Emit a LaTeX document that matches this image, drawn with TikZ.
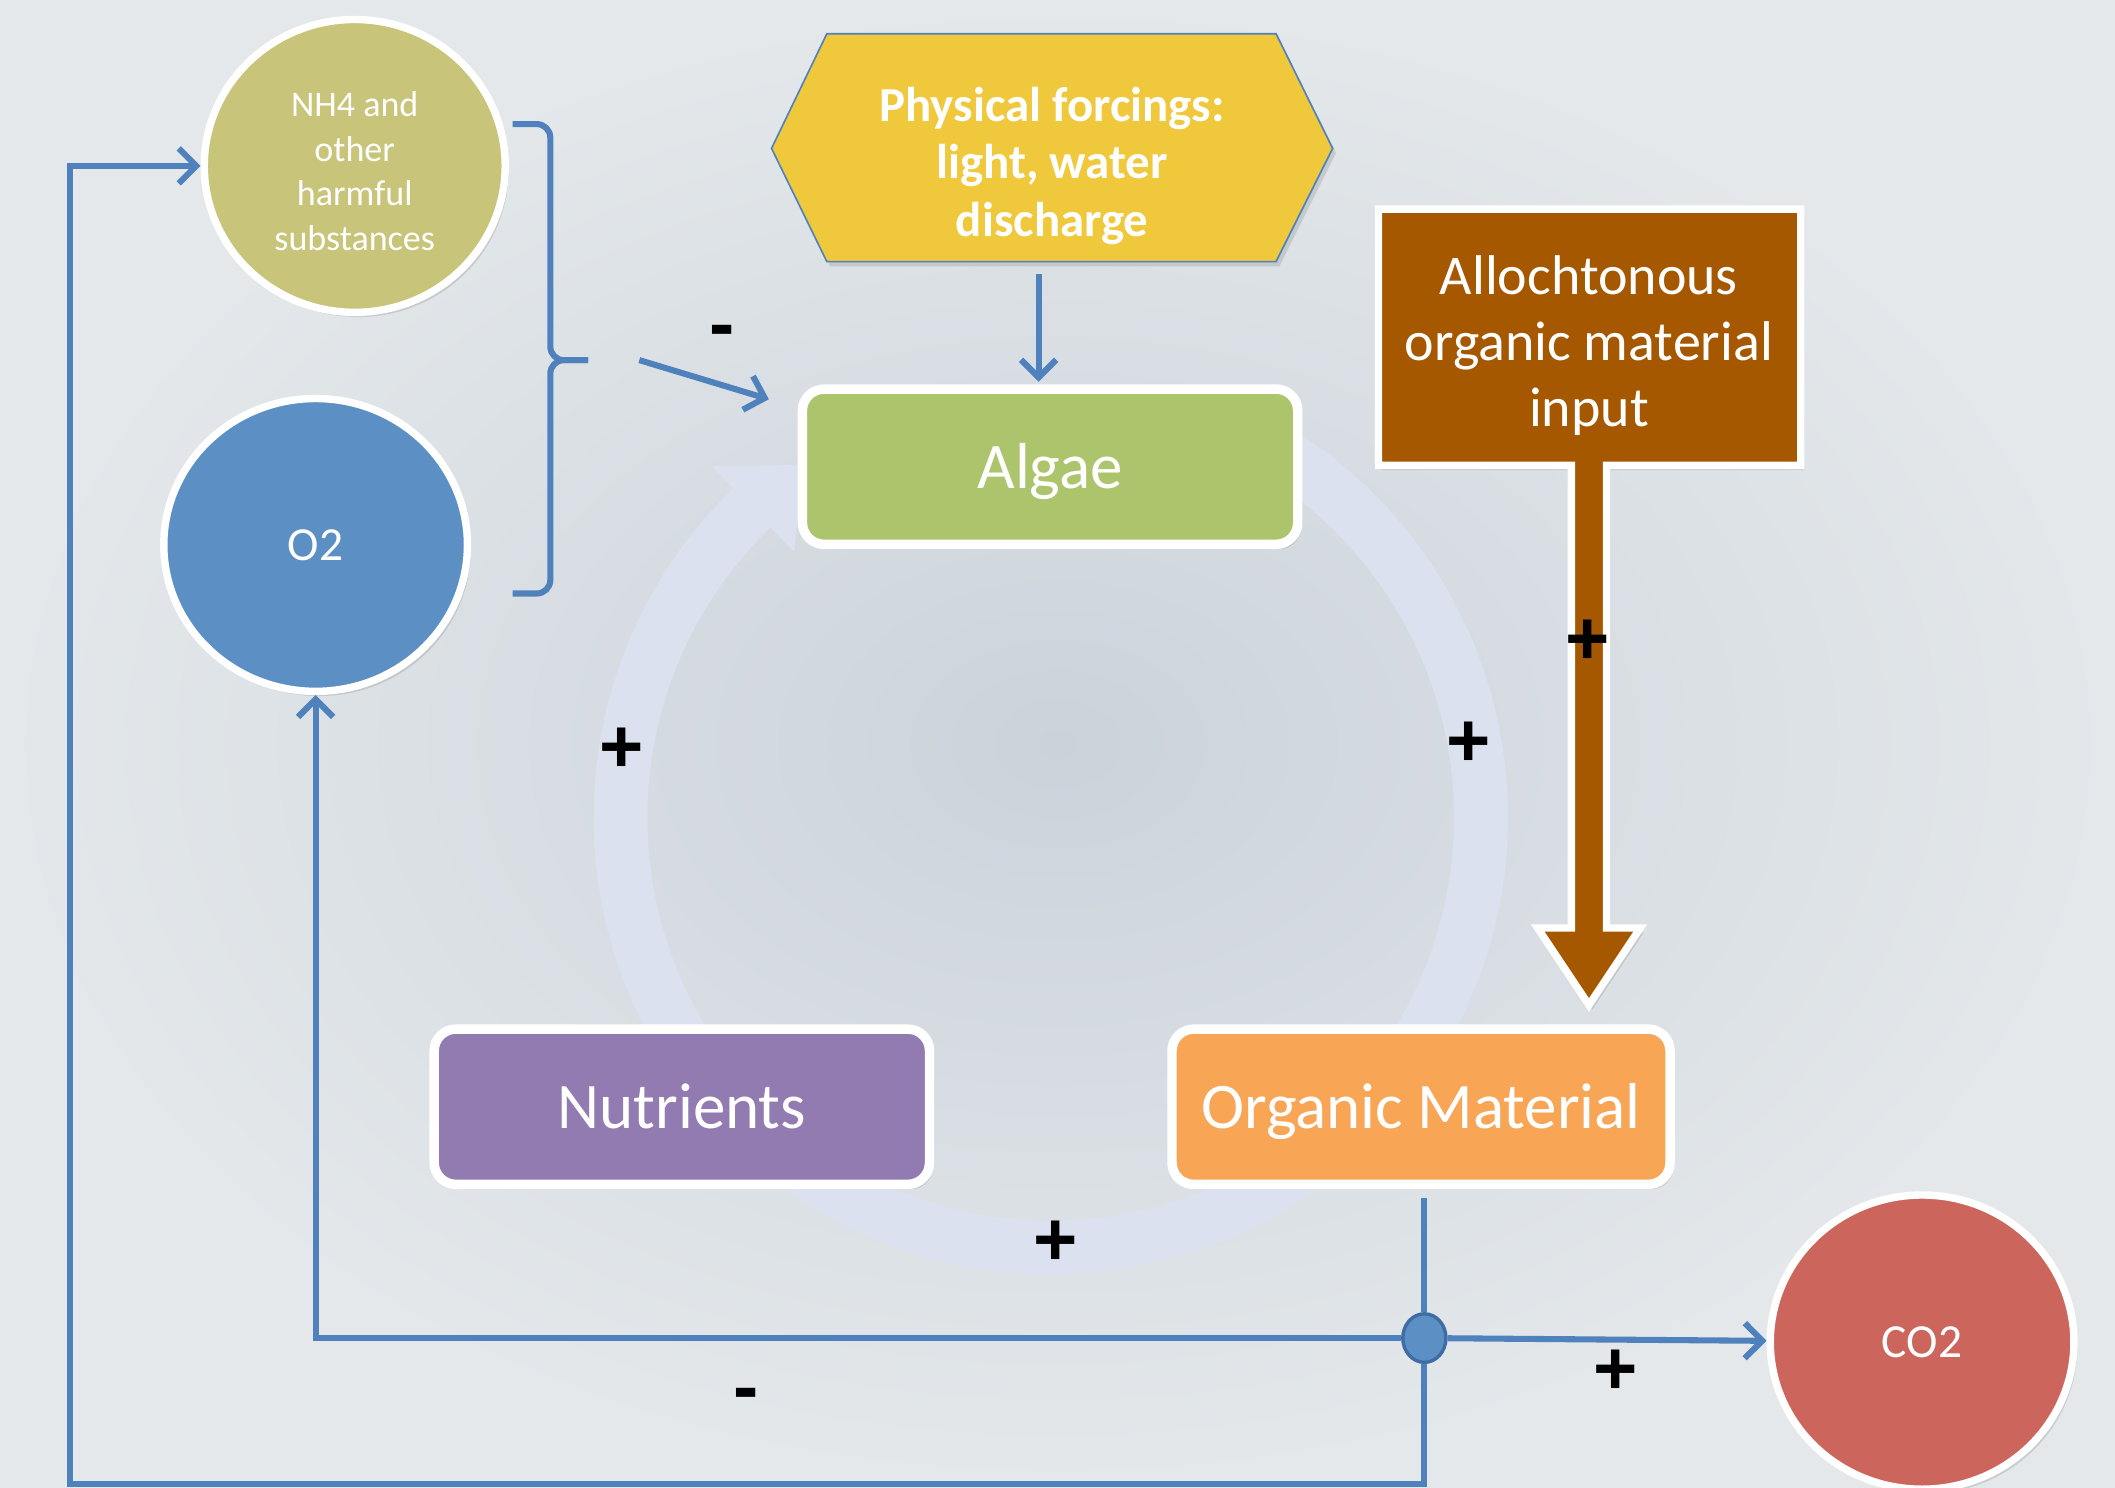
\documentclass[tikz,border=0pt]{standalone}
\usepackage{fontspec}
\setmainfont{Carlito}
\newfontfamily\signfont{Liberation Sans}
\usetikzlibrary{arrows.meta,shapes.geometric,calc,shadows}
\definecolor{bgin}{RGB}{203,211,218}
\definecolor{bgout}{RGB}{228,232,235}
\definecolor{ringc}{RGB}{219,225,238}
\definecolor{lineblue}{RGB}{79,129,189}
\definecolor{nhc}{RGB}{200,196,122}
\definecolor{otwoc}{RGB}{92,144,196}
\definecolor{cotwoc}{RGB}{204,102,92}
\definecolor{hexc}{RGB}{240,200,60}
\definecolor{algaec}{RGB}{172,196,108}
\definecolor{allocc}{RGB}{166,88,0}
\definecolor{nutc}{RGB}{146,123,176}
\definecolor{omc}{RGB}{248,166,86}
\definecolor{jnborder}{RGB}{62,108,165}
\newcommand{\capctr}[1]{\raisebox{-0.33em}[0pt][0pt]{#1}}
\begin{document}
\begin{tikzpicture}[x=0.01cm,y=-0.01cm,
  softshadow/.style={drop shadow={shadow xshift=0.025cm,shadow yshift=-0.035cm,opacity=0.25}},
  blueline/.style={draw=lineblue,line width=0.045cm},
  arr/.style={-{Straight Barb[length=0.13cm,width=0.26cm]}},
  circ/.style={ellipse,draw=white,line width=0.055cm,inner sep=0pt,text=white,align=center,softshadow},
  rbox/.style={rectangle,rounded corners=0.16cm,draw=white,line width=0.07cm,text=white,
    font=\fontsize{13.7}{16}\selectfont,minimum width=3.67cm,minimum height=1.15cm,inner sep=0pt,softshadow},
  sign/.style={font=\signfont\bfseries\fontsize{16}{16}\selectfont,text=black,inner sep=0pt}
]
\useasboundingbox (0,0) rectangle (1568,1103);
\shade[inner color=bgin,outer color=bgout] (0,0) rectangle (1568,1103);

% cycle ring arrow
\coordinate (C) at (779,606);
\fill[ringc] ($(C)+(-60:339)$) arc[start angle=-60,end angle=226,radius=339]
  -- ($(C)+(226:362)$) -- ($(C)+(235:319)$) -- ($(C)+(226:274)$)
  -- ($(C)+(226:299)$) arc[start angle=226,end angle=-60,radius=299] -- cycle;

% hexagon
\draw[fill=hexc,draw=lineblue,line width=0.012cm,softshadow]
  (572,110) -- (613,25) -- (946,25) -- (988,110) -- (946,194) -- (613,194) -- cycle;
\node[text=white,align=center,font=\bfseries\fontsize{10.3}{12.2}\selectfont] (hex) at (780,123)
  {Physical forcings:\\light, water\\discharge};
\coordinate (hexb) at (770,194);

% allochtonous box with thick arrow
\draw[fill=allocc,draw=white,line width=0.055cm,softshadow]
  (1022,155) -- (1335,155) -- (1335,345) -- (1191,345) -- (1191,688) -- (1216,688)
  -- (1178,745) -- (1140,688) -- (1165,688) -- (1165,345) -- (1022,345) -- cycle;
\node[text=white,align=center,font=\fontsize{11.8}{13.9}\selectfont] (alloc) at (1178,256)
  {Allochtonous\\organic material\\input};

% nodes
\node[circ,fill=nhc,minimum width=2.23cm,minimum height=2.17cm,font=\fontsize{7.6}{9.4}\selectfont]
  (nh4) at (263,123) {\parbox{1.5cm}{\centering\vspace*{2.2pt}NH4 and\\other\\harmful\\substances}};
\node[circ,fill=otwoc,minimum width=2.25cm,minimum height=2.17cm,font=\fontsize{10}{12}\selectfont]
  (o2) at (234,404) {\capctr{O2}};
\node[circ,fill=cotwoc,minimum width=2.25cm,minimum height=2.18cm,font=\fontsize{10}{12}\selectfont]
  (co2) at (1425,995) {\capctr{CO2}};
\node[rbox,fill=algaec] (algae) at (778.5,346) {\capctr{Algae}};
\node[rbox,fill=nutc] (nut) at (505.5,820.5) {\capctr{Nutrients}};
\node[rbox,fill=omc,minimum width=3.69cm] (om) at (1053.5,820.5) {\capctr{Organic Material}};

% hexagon -> algae
\draw[blueline,arr,shorten <=0.09cm,shorten >=0.02cm] (hexb) -- (hexb |- algae.north);

% bracket
\draw[blueline,rounded corners=0.1cm] (380,92) -- (408,92) -- (408,267) -- (436,267);
\draw[blueline,rounded corners=0.1cm] (380,440) -- (408,440) -- (408,267) -- (436,267);
\coordinate (mstart) at (474,267);
\coordinate (mend) at (570,296);
\draw[blueline,arr] (mstart) -- (mend);

% bottom network
\node[ellipse,fill=otwoc,draw=jnborder,line width=0.025cm,minimum width=0.32cm,minimum height=0.36cm,inner sep=0pt] (jn) at (1056,992) {};
\coordinate (omb) at (1056,888);
\coordinate (bl) at (52,1100);
\draw[blueline] (omb) -- (jn);
\draw[blueline,arr] (jn) |- (bl) |- (nh4.west);
\draw[blueline,arr] (jn) -| (o2.south);
\draw[blueline,arr] (jn) -- (co2);

% signs
\node[sign] (m1) at (535,250) {-};
\node[sign] (p1) at (461,556) {+};
\node[sign] (p2) at (1089,552) {+};
\node[sign] (p3) at (783,922) {+};
\node[sign] (p4) at (1177,476) {+};
\node[sign] (p5) at (1198,1017) {+};
\node[sign] (m2) at (553,1038) {-};
\end{tikzpicture}
\end{document}
